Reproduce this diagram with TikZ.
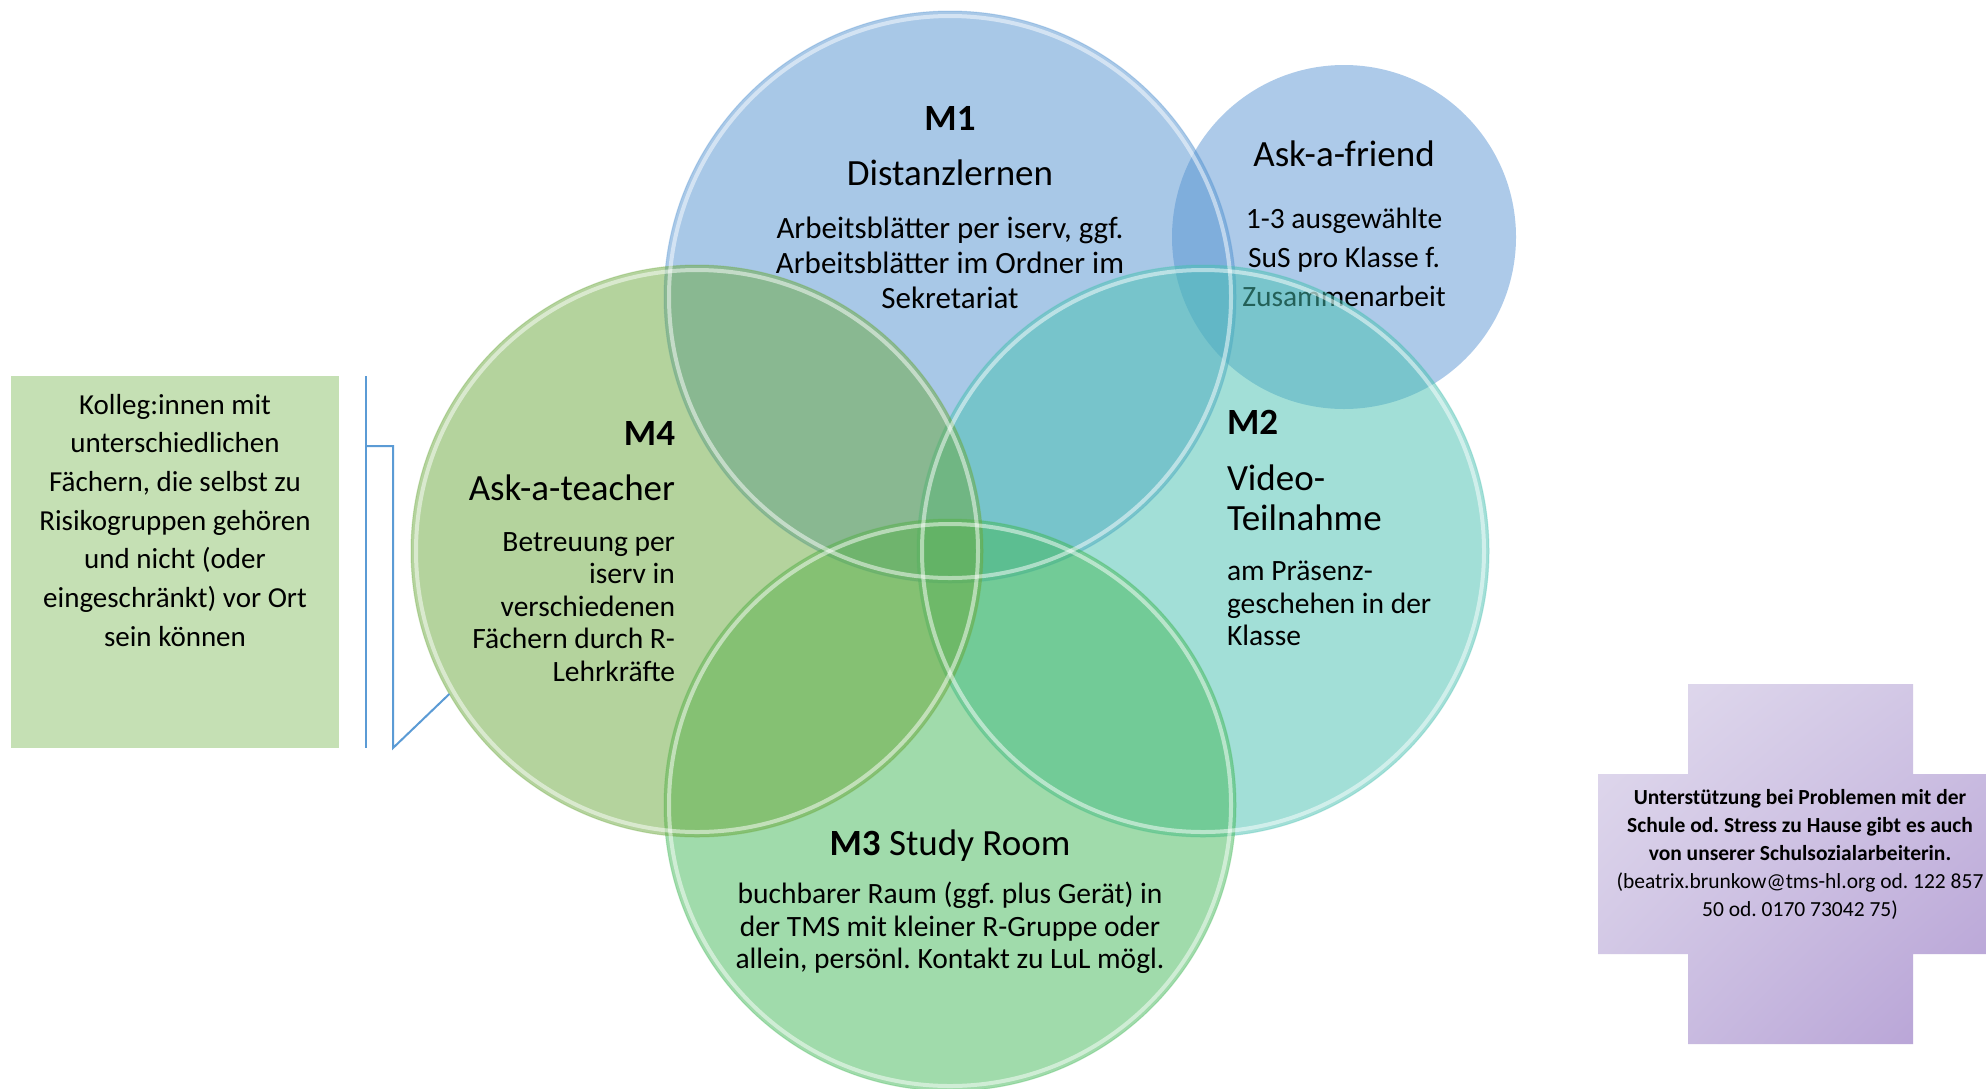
\documentclass[tikz,border=0pt]{standalone}
\usepackage{fontspec}
\setmainfont{Carlito}
\usetikzlibrary{shadings}
\frenchspacing
\definecolor{cMone}{RGB}{83,147,209}
\definecolor{cMtwo}{RGB}{71,193,177}
\definecolor{cMthree}{RGB}{67,185,89}
\definecolor{cMfour}{RGB}{107,169,61}
\definecolor{cFriend}{RGB}{93,151,213}
\definecolor{kboxc}{RGB}{197,224,180}
\definecolor{calloutc}{RGB}{91,155,213}
\definecolor{crossA}{RGB}{226,220,238}
\definecolor{crossM}{RGB}{206,194,227}
\definecolor{crossB}{RGB}{180,158,212}
\begin{document}
\frenchspacing
\begin{tikzpicture}[x=1pt,y=-1pt,
  every node/.style={inner sep=0pt, outer sep=0pt, text=black},
  vennc/.style={circle, minimum size=572pt, fill=#1, fill opacity=0.5, draw=#1, draw opacity=0.3, line width=1pt},
  rim/.style={white, opacity=0.5, line width=4pt},
  lbl/.style={font=\fontsize{37}{40}\selectfont\bfseries},
  ttl/.style={font=\fontsize{37}{40}\selectfont},
  bdy/.style={font=\fontsize{29.5}{32.5}\selectfont},
  callline/.style={draw=calloutc, line width=2pt}]
\useasboundingbox (0,0) rectangle (1986,1088);
\fill[white] (0,0) rectangle (1986,1088);

% left box
\node[fill=kboxc, minimum width=328pt, minimum height=372pt, anchor=north west] (kol) at (11,376) {};
\node[font=\fontsize{29}{38.7}\selectfont, align=center, anchor=north] (kolt) at (175,387)
  {\strut Kolleg:innen mit\\unterschiedlichen\\Fächern, die selbst zu\\Risikogruppen gehören\\und nicht (oder\\eingeschränkt) vor Ort\\sein können};

% Ask-a-friend
\node[vennc=cFriend, minimum size=344pt, draw=none] (fr) at (1344,237) {};
\node[ttl, anchor=base] (frt) at (1344,166) {Ask-a-friend};
\node[font=\fontsize{29.5}{39}\selectfont, align=center, anchor=north] (frb) at (1344,201)
  {\strut 1-3 ausgewählte\\SuS pro Klasse f.\\Zusammenarbeit};

% main circles
\node[vennc=cMone] (m1) at (950,297) {};
\node[vennc=cMtwo] (m2) at (1203,551) {};
\node[vennc=cMthree] (m3) at (950,805) {};
\node[vennc=cMfour] (m4) at (697,551) {};
\draw[rim] (m1.center) circle[radius=281pt];
\draw[rim] (m2.center) circle[radius=281pt];
\draw[rim] (m3.center) circle[radius=281pt];
\draw[rim] (m4.center) circle[radius=281pt];

% callout bracket
\coordinate (b1) at (366,376);
\coordinate (b2) at (366,748);
\coordinate (k1) at (366,446);
\coordinate (k2) at (393,446);
\coordinate (k3) at (393,748);
\draw[callline] (b1) -- (b2);
\draw[callline] (k1) -- (k2) -- (k3) -- (m4.210);

% M1 text
\node[lbl, anchor=base] (m1l) at (950,130) {M1};
\node[ttl, anchor=base] (m1t) at (950,185) {Distanzlernen};
\node[font=\fontsize{31}{35}\selectfont, align=center, anchor=north] (m1b) at (950,213.5)
  {\strut Arbeitsblätter per iserv, ggf.\\Arbeitsblätter im Ordner im\\Sekretariat};

% M2 text
\node[lbl, anchor=base west] (m2l) at (1227,434) {M2};
\node[ttl, align=left, anchor=north west] (m2t) at (1227,462) {\strut Video-\\Teilnahme};
\node[bdy, align=left, anchor=north west] (m2b) at (1227,558) {\strut am Präsenz-\\geschehen in der\\Klasse};

% M4 text
\node[lbl, anchor=base east] (m4l) at (675,445) {M4};
\node[ttl, anchor=base east] (m4t) at (675,500) {Ask-a-teacher};
\node[bdy, align=right, anchor=north east] (m4b) at (675,528.5)
  {\strut Betreuung per\\iserv in\\verschiedenen\\Fächern durch R-\\Lehrkräfte};

% M3 text
\node[ttl, anchor=base] (m3t) at (950,855) {\textbf{M3} Study Room};
\node[bdy, align=center, anchor=north] (m3b) at (950,881)
  {\strut buchbarer Raum (ggf. plus Gerät) in\\der TMS mit kleiner R-Gruppe oder\\allein, persönl. Kontakt zu LuL mögl.};

% cross
\shade[upper left=crossA, upper right=crossM, lower left=crossM, lower right=crossB]
  (1688,684) -- (1913,684) -- (1913,774) -- (2003,774) -- (2003,954) -- (1913,954)
  -- (1913,1044) -- (1688,1044) -- (1688,954) -- (1598,954) -- (1598,774) -- (1688,774) -- cycle;
\node[font=\fontsize{21.5}{28}\selectfont, align=center, anchor=north] (hilfe) at (1800,785)
  {\textbf{\strut Unterstützung bei Problemen mit der}\\\textbf{Schule od. Stress zu Hause gibt es auch}\\\textbf{von unserer Schulsozialarbeiterin.}\\(beatrix.brunkow@tms-hl.org od. 122 857\\50 od. 0170 73042 75)};
\end{tikzpicture}
\end{document}
